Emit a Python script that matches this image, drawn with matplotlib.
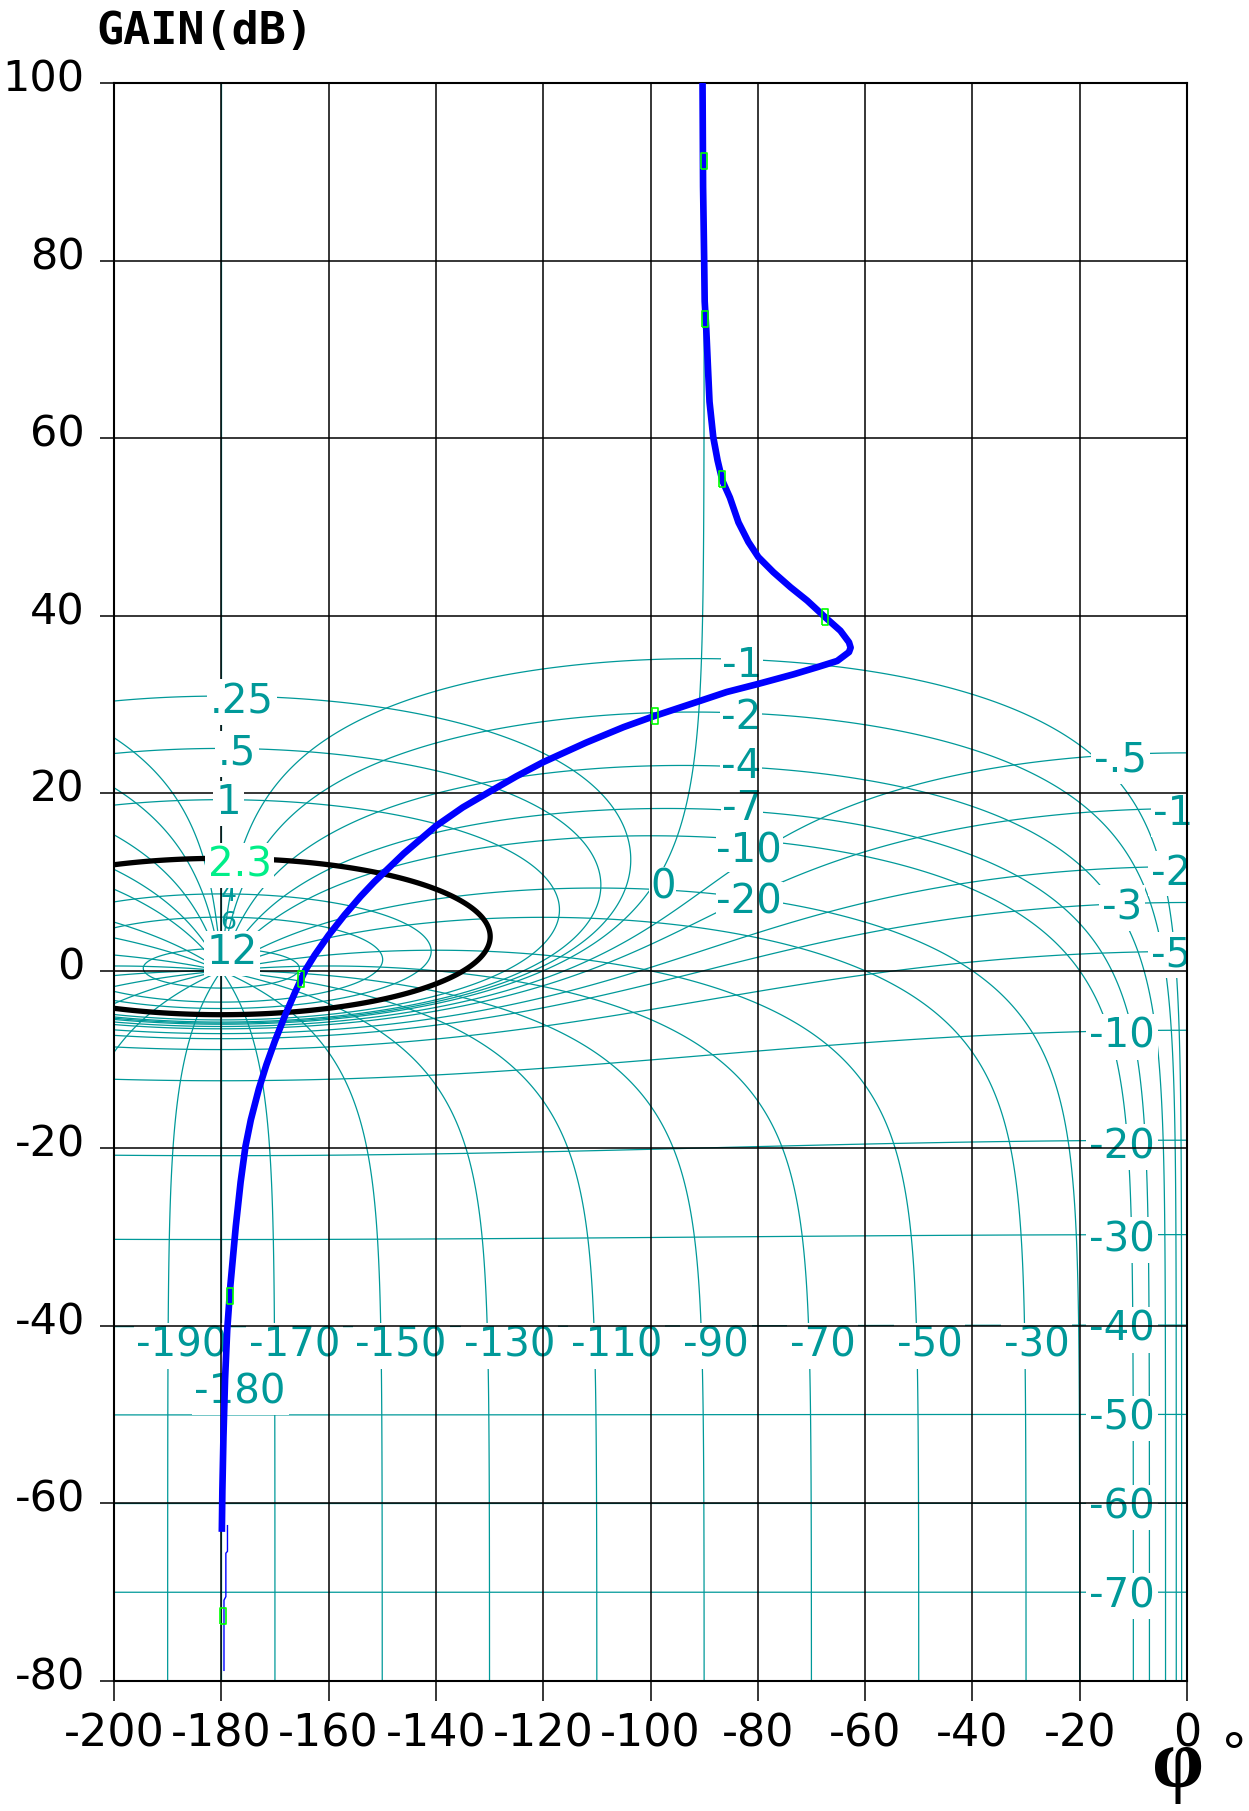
import numpy as np
import matplotlib
matplotlib.use('Agg')
import matplotlib.pyplot as plt
from matplotlib.transforms import ScaledTranslation

plt.rcParams['font.family'] = 'DejaVu Sans'
plt.rcParams['axes.unicode_minus'] = False

TEAL = '#009999'

# closed-loop gain contours (dB) and the highlighted one
M_LEVELS = [-70, -60, -50, -40, -30, -20, -10, -5, -3, -2, -1, -0.5, 0, 0.25, 0.5, 1, 4, 6, 12]
M_HIGHLIGHT = 2.3
# closed-loop phase contours (deg), right half; left half are the mirrors
N_LEVELS = [-170, -150, -130, -110, -90, -70, -50, -30, -20, -10, -7, -4, -2, -1]
CRITICAL_PHASE = -180

X_TICKS = list(range(-200, 1, 20))
Y_TICKS = list(range(-80, 101, 20))

# open-loop response
blue_phase = [-90.3, -90.2, -90.0, -89.9, -89.6, -89.3, -89.0, -88.3, -87.5, -86.6,
              -85.2, -83.6, -81.75, -79.9, -77.1, -73.9, -70.8, -67.4, -64.6, -63.0,
              -62.7, -63.0, -65.2, -68.9, -73.3, -80.0, -85.8, -92.0, -99.25, -105.0,
              -112.0, -120.0, -125.0, -129.9, -135.0, -140.0, -146.0, -151.5, -154.0, -157.0,
              -160.0, -162.6, -164.4, -166.3, -168.1, -170.0, -171.6, -173.0, -174.5, -175.5,
              -176.4, -177.3, -178.3, -178.9, -179.3, -179.6, -179.8, -179.9]
blue_gain = [100, 88.3, 80.2, 75.4, 72.2, 68.1, 64.1, 60.1, 57.5, 55.2,
             53.3, 50.5, 48.3, 46.6, 44.9, 43.2, 41.7, 39.8, 38.3, 37.0,
             36.4, 35.9, 34.9, 34.2, 33.4, 32.3, 31.4, 30.15, 28.7, 27.45,
             25.7, 23.5, 21.9, 20.2, 18.4, 16.3, 13.2, 10.0, 8.4, 6.3,
             4.0, 1.75, 0.0, -2.5, -5.0, -7.9, -10.6, -13.3, -16.8, -19.8,
             -23.8, -28.8, -35.4, -40.5, -46.0, -52.5, -58.5, -63.2]
tail_phase = [-178.85, -178.85, -179.15, -179.15, -179.5, -179.5]
tail_gain = [-62.5, -65.4, -65.6, -70.5, -70.9, -78.8]
marker_phase = [-90.0, -89.8, -86.6, -67.4, -99.25, -165.1, -178.3, -179.6]
marker_gain = [91.2, 73.4, 55.4, 39.8, 28.7, -0.9, -36.6, -72.7]

# contour labels
left_text = ['.25', '.5', '1', '12']
left_phase = [-176.2, -177.1, -178.7, -178.0]
left_gain = [30.7, 24.9, 19.3, 2.4]
faint_text = ['6', '4']
faint_phase = [-178.7, -178.7]
faint_gain = [5.9, 9.1]
hl_text = '2.3'
hl_pos = (-176.6, 12.3)

mid_text = ['-1', '-2', '-4', '-7', '-10', '-20', '0']
mid_phase = [-82.9, -83.1, -83.1, -83.0, -81.6, -81.6, -97.7]
mid_gain = [34.8, 28.9, 23.4, 18.7, 13.9, 8.1, 9.8]

right_text = ['-.5', '-1', '-2', '-3', '-5', '-10', '-20', '-30', '-40', '-50', '-60', '-70']
right_phase = [-12.4, -2.5, -2.9, -12.1, -2.9, -12.1, -12.1, -12.1, -12.1, -12.1, -12.1, -12.1]
right_gain = [24.1, 18.1, 11.4, 7.5, 2.2, -7.0, -19.4, -29.9, -40.0, -50.0, -60.0, -70.0]

bottom_text = ['-190', '-170', '-150', '-130', '-110', '-90', '-70', '-50', '-30', '-180']
bottom_phase = [-187.3, -166.3, -146.5, -126.3, -106.3, -87.8, -67.9, -48.0, -28.0, -176.5]
bottom_gain = [-41.8] * 9 + [-47.0]

fig = plt.figure(figsize=(12.49, 18.11), dpi=100)
ax = fig.add_axes([114 / 1249, 130 / 1811, 1073 / 1249, 1598 / 1811])

# Nichols grid
ph = np.linspace(-200, 0, 2001)
gd = np.linspace(-80, 100, 1801)
P, GD = np.meshgrid(ph, gd)
G = 10 ** (GD / 20) * np.exp(1j * np.deg2rad(P))
with np.errstate(all='ignore'):
    T = G / (1 + G)
    MdB = np.nan_to_num(20 * np.log10(np.abs(T)), posinf=300, neginf=-300)
ax.contour(P, GD, MdB, levels=sorted(M_LEVELS), colors=TEAL, linewidths=0.9,
           negative_linestyles='solid', zorder=1)

ph_r = np.linspace(CRITICAL_PHASE, 0, 1801)
Pr, GDr = np.meshgrid(ph_r, gd)
Gr = 10 ** (GDr / 20) * np.exp(1j * np.deg2rad(Pr))
with np.errstate(all='ignore'):
    psi_r = np.angle(Gr / (1 + Gr), deg=True)
ax.contour(Pr, GDr, np.nan_to_num(psi_r), levels=sorted(N_LEVELS), colors=TEAL,
           linewidths=0.9, negative_linestyles='solid', zorder=1)

ph_l = np.linspace(-200, CRITICAL_PHASE - 0.001, 201)
Pl, GDl = np.meshgrid(ph_l, gd)
Gl = 10 ** (GDl / 20) * np.exp(1j * np.deg2rad(Pl))
with np.errstate(all='ignore'):
    psi_l = np.mod(np.angle(Gl / (1 + Gl), deg=True), 360) - 360
ax.contour(Pl, GDl, np.nan_to_num(psi_l), levels=sorted(-360 - n for n in N_LEVELS),
           colors=TEAL, linewidths=0.9, negative_linestyles='solid', zorder=1)
ax.axvline(CRITICAL_PHASE, color=TEAL, lw=0.9, zorder=1)

ax.contour(P, GD, MdB, levels=[M_HIGHLIGHT], colors='black', linewidths=3.8, zorder=3)

# labels
lab = ax.transData + ScaledTranslation(0, -0.04, fig.dpi_scale_trans)
box = dict(facecolor='white', edgecolor='none', pad=2)
tight = dict(facecolor='white', edgecolor='none', pad=0.5)
for t, x, y in zip(faint_text, faint_phase, faint_gain):
    ax.text(x, y, t, color=TEAL, fontsize=18, ha='center', va='center',
            transform=lab, zorder=0.9)
for t, x, y in zip(mid_text, mid_phase, mid_gain):
    ax.text(x, y, t, color=TEAL, fontsize=29, ha='center', va='center',
            transform=lab, bbox=tight, zorder=2)
for t, x, y in zip(right_text + bottom_text, right_phase + bottom_phase,
                   right_gain + bottom_gain):
    ax.text(x, y, t, color=TEAL, fontsize=29, ha='center', va='center',
            transform=lab, bbox=box, zorder=2)
for t, x, y in zip(left_text, left_phase, left_gain):
    ax.text(x, y, t, color=TEAL, fontsize=29, ha='center', va='center',
            transform=lab, bbox=box, zorder=3.5)
ax.text(hl_pos[0], hl_pos[1], hl_text, color='#00ee88', fontsize=29, ha='center',
        va='center', transform=lab, bbox=box, zorder=3.5)

# open-loop locus
ax.plot(blue_phase, blue_gain, color='#0000ff', lw=4.8, zorder=5,
        solid_capstyle='butt', solid_joinstyle='round')
ax.plot(tail_phase, tail_gain, color='#0000ff', lw=1.0, zorder=5)
rect = [(-0.2, -0.5), (0.2, -0.5), (0.2, 0.5), (-0.2, 0.5), (-0.2, -0.5)]
ax.plot(marker_phase, marker_gain, ls='none', marker=rect, ms=12, mfc='none',
        mec='#00ff00', mew=1.2, zorder=6)

ax.set_xlim(-200, 0)
ax.set_ylim(-80, 100)
ax.set_xticks(X_TICKS)
ax.set_yticks(Y_TICKS)
ax.set_axisbelow(False)
ax.grid(True, color='black', lw=1.1)
for s in ax.spines.values():
    s.set_linewidth(1.5)
ax.tick_params(axis='x', length=14.5, width=1.1, pad=8.5, labelsize=32)
ax.tick_params(axis='y', length=10, width=1.1, pad=11, labelsize=31)
up = ScaledTranslation(0, 0.08, fig.dpi_scale_trans)
for t in ax.get_yticklabels():
    t.set_transform(t.get_transform() + up)

fig.text(96 / 1249, 1 - 32 / 1811, 'GAIN(dB)', family='DejaVu Sans Mono', weight='bold',
         fontsize=32.5, ha='left', va='center')
fig.text(1178 / 1249, 1 - 1766 / 1811, 'φ', family=['Liberation Serif', 'DejaVu Serif'],
         weight='bold', fontsize=60, ha='center', va='center')
fig.text(1234 / 1249, 1 - 1756 / 1811, '°', fontsize=38, ha='center', va='center')

fig.savefig('out.png', dpi=100)
